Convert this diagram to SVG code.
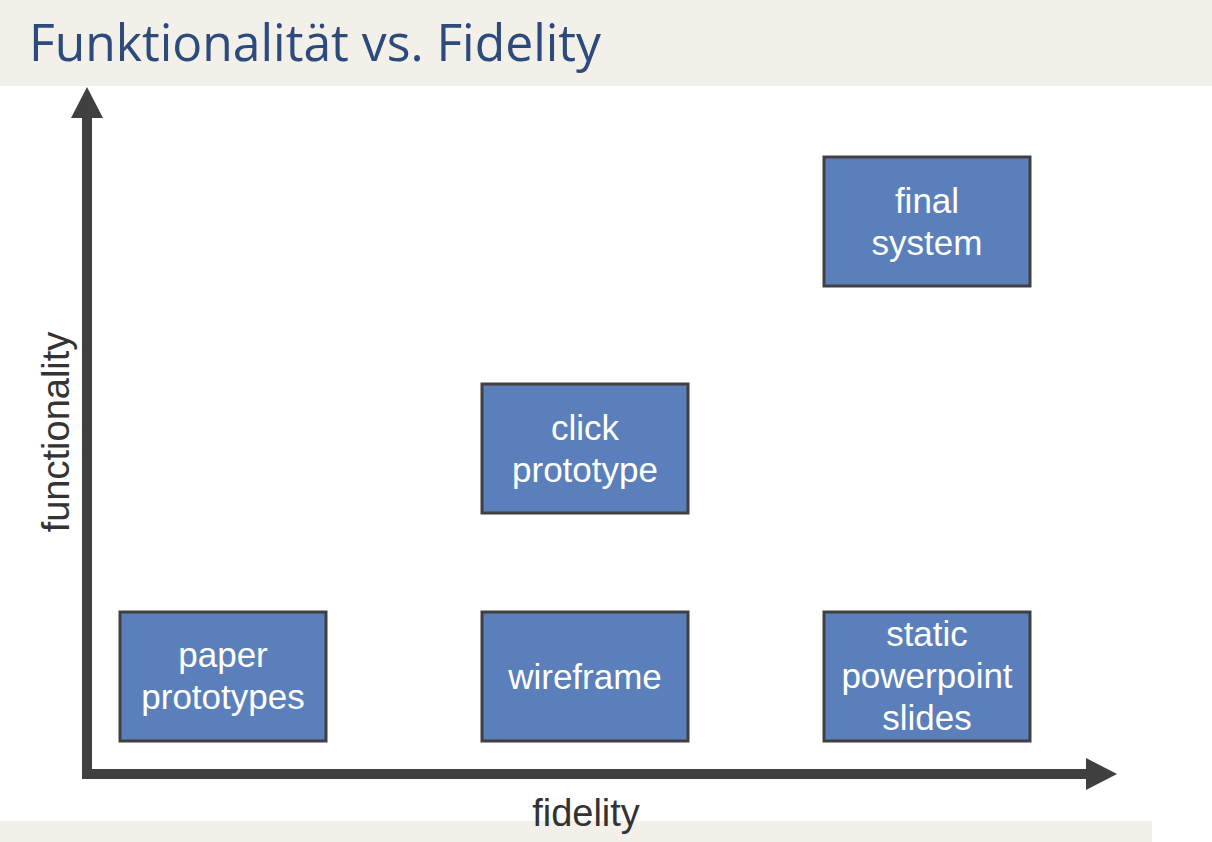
<svg xmlns="http://www.w3.org/2000/svg" width="1212" height="842" viewBox="0 0 1212 842">
<style>
.node rect{fill:#5a7fba;stroke:#404040;stroke-width:3}
.node text{fill:#ffffff;font-family:"Liberation Sans",Arial,sans-serif;font-size:35px;text-anchor:middle}
.axis{fill:#404040}
.lbl{fill:#333333;font-family:"Liberation Sans",Arial,sans-serif;font-size:38px;text-anchor:middle}
</style>
<rect x="0" y="0" width="1212" height="842" fill="#ffffff"/>
<rect x="0" y="0" width="1212" height="86" fill="#f2f0e8"/>
<rect x="0" y="821" width="1152" height="21" fill="#f2f0e8"/>
<text x="29" y="61" font-family="'Open Sans','Noto Sans',sans-serif" font-size="52" fill="#2c4a7c" textLength="572" lengthAdjust="spacingAndGlyphs">Funktionalität vs. Fidelity</text>
<g id="connectors">
<rect class="axis" x="82" y="112" width="10" height="667"/>
<polygon class="axis" points="71,118 87,87 103,118"/>
<rect class="axis" x="82" y="769" width="1010" height="10"/>
<polygon class="axis" points="1086,758 1117,774 1086,790"/>
</g>
<text class="lbl" x="586" y="826">fidelity</text>
<text class="lbl" transform="translate(69,432) rotate(-90)">functionality</text>
<g id="final" class="node"><rect x="824" y="157" width="206" height="129"/><text x="927" y="213">final</text><text x="927" y="255">system</text></g>
<g id="click" class="node"><rect x="482" y="384" width="206" height="129"/><text x="585" y="440">click</text><text x="585" y="482">prototype</text></g>
<g id="paper" class="node"><rect x="120" y="612" width="206" height="129"/><text x="223" y="667">paper</text><text x="223" y="709">prototypes</text></g>
<g id="wireframe" class="node"><rect x="482" y="612" width="206" height="129"/><text x="585" y="689">wireframe</text></g>
<g id="static" class="node"><rect x="824" y="612" width="206" height="129"/><text x="927" y="646">static</text><text x="927" y="688">powerpoint</text><text x="927" y="730">slides</text></g>
</svg>
